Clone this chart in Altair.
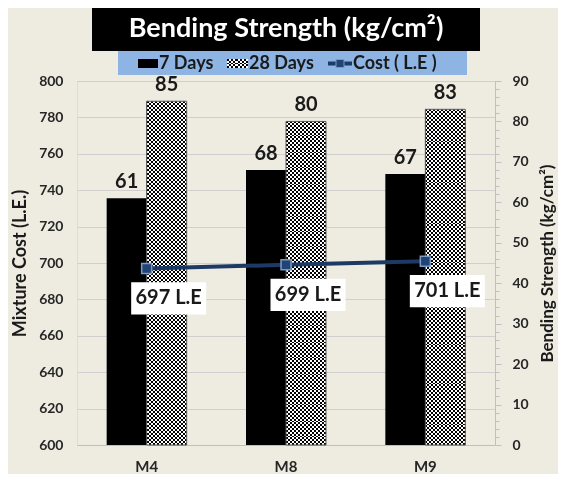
import altair as alt
import pandas as pd

# ---------------- data ----------------
mixes = ["M4", "M8", "M9"]
strength_7 = [61, 68, 67]
strength_28 = [85, 80, 83]
cost = [697, 699, 701]
cost_text = ["697 L.E", "699 L.E", "701 L.E"]
legend_labels = ["7 Days", "28 Days", "Cost ( L.E )"]
title_text = "Bending Strength (kg/cm²)"
left_title = "Mixture Cost  (L.E.)"
right_title = "Bending Strength (kg/cm²)"

df = pd.DataFrame({"mix": mixes, "s7": strength_7, "s28": strength_28,
                   "cost": cost, "ctext": cost_text})
one = pd.DataFrame({"k": [0]})

FONT = "Lato"
W, H = 418, 364
NAVY = "#1C3A64"
INK = "#1a1a1a"


def stripes(n, vertical, dark="#000000", light="#ffffff"):
    stops = []
    for i in range(n):
        c = dark if i % 2 == 0 else light
        stops.append(alt.GradientStop(offset=i / n, color=c))
        stops.append(alt.GradientStop(offset=(i + 1) / n, color=c))
    if vertical:
        return alt.LinearGradient(gradient="linear", stops=stops, x1=0, x2=1, y1=0, y2=0)
    return alt.LinearGradient(gradient="linear", stops=stops, x1=0, x2=0, y1=0, y2=1)


base = alt.Chart(df)

x_axis = alt.Axis(title=None, labelAngle=0, labelFontSize=15,
                  labelFontWeight="bold", labelColor="#262626",
                  ticks=False, labelPadding=14, domainColor="#BFBFBF")
x_scale = alt.Scale(paddingInner=0, paddingOuter=0)


def xe():
    return alt.X("mix:N", sort=mixes, scale=x_scale, axis=x_axis)


right_axis = alt.Axis(
    orient="right", values=list(range(0, 91, 2)),
    labelExpr="datum.value % 10 == 0 ? datum.label : ''",
    labelOverlap=False,
    tickSize={"condition": {"test": "datum.value % 10 == 0", "value": 6}, "value": 4},
    tickColor="#BFBFBF", domainColor="#BFBFBF", grid=False,
    labelFontSize=14, labelFontWeight="bold", labelColor="#262626", labelPadding=11,
    title=right_title, titleFontSize=17, titleFontWeight="bold", titleColor=INK,
    titleAngle=270, titleBaseline="top", titlePadding=11)
yscale_r = alt.Scale(domain=[0, 90])


def yr(field):
    return alt.Y(field, scale=yscale_r, axis=right_axis, title=right_title)


bar7 = base.mark_bar(color="black", width=40, xOffset=-20).encode(x=xe(), y=yr("s7:Q"))
bar28_base = base.mark_bar(fill=stripes(20, True), width=40, xOffset=20).encode(
    x=xe(), y=yr("s28:Q"))
bar28_over = base.mark_bar(fill=stripes(172, False), width=40, xOffset=20,
                           blend="difference").encode(x=xe(), y=yr("s28:Q"))
bar28_edge = base.mark_bar(filled=False, stroke="#595959", strokeWidth=1,
                           width=40, xOffset=20).encode(x=xe(), y=yr("s28:Q"))
lab7 = base.mark_text(dx=-20, dy=-10, baseline="alphabetic", align="center",
                      fontSize=20, fontWeight="bold", color=INK).encode(
    x=xe(), y=yr("s7:Q"), text="s7:Q")
lab28 = base.mark_text(dx=20, dy=-10, baseline="alphabetic", align="center",
                       fontSize=20, fontWeight="bold", color=INK).encode(
    x=xe(), y=yr("s28:Q"), text="s28:Q")

bars = alt.layer(bar7, bar28_base, bar28_over, bar28_edge, lab7, lab28)

left_axis = alt.Axis(
    orient="left", values=list(range(600, 801, 20)), grid=True, gridColor="#CFCFCF",
    ticks=False, domain=False, labelFontSize=14, labelFontWeight="bold",
    labelColor="#262626", labelPadding=14, title=left_title, titleFontSize=18,
    titleFontWeight="bold", titleColor=INK, titlePadding=9)
yscale_l = alt.Scale(domain=[600, 800])


def yl():
    return alt.Y("cost:Q", scale=yscale_l, axis=left_axis, title=left_title)


line = base.mark_line(color=NAVY, strokeWidth=4).encode(x=xe(), y=yl())
pts = base.mark_point(shape="square", filled=True, size=100, fill="#1F4477",
                      stroke="#7F9AC0", strokeWidth=1.5, opacity=1).encode(x=xe(), y=yl())
BOX = "M-1,-0.43L1,-0.43L1,0.43L-1,0.43Z"
boxes = base.mark_point(shape=BOX, filled=True, size=75 * 75, fill="white",
                        strokeWidth=0, opacity=1, xOffset=22, yOffset=30).encode(
    x=xe(), y=yl())
ctext = base.mark_text(dx=22, dy=30, fontSize=20, fontWeight="bold", color=INK,
                       align="center", baseline="middle").encode(
    x=xe(), y=yl(), text="ctext:N")

costs = alt.layer(line, pts, boxes, ctext)

# ---------------- title & legend boxes ----------------
deco = alt.Chart(one)
title_box = deco.mark_rect(color="black").encode(
    x=alt.value(15), x2=alt.value(403), y=alt.value(-76), y2=alt.value(-30))
title_txt = deco.mark_text(text=title_text, fontSize=27, fontWeight="bold",
                           color="white", align="center", baseline="middle").encode(
    x=alt.value(209), y=alt.value(-52))
leg_box = deco.mark_rect(color="#8DB4E2").encode(
    x=alt.value(41), x2=alt.value(390), y=alt.value(-30), y2=alt.value(-6))
leg_black = deco.mark_rect(color="black").encode(
    x=alt.value(61), x2=alt.value(81), y=alt.value(-22), y2=alt.value(-13))
leg_chk_a = deco.mark_rect(fill=stripes(10, True)).encode(
    x=alt.value(150), x2=alt.value(171), y=alt.value(-22), y2=alt.value(-13))
leg_chk_b = deco.mark_rect(fill=stripes(5, False), blend="difference").encode(
    x=alt.value(150), x2=alt.value(171), y=alt.value(-22), y2=alt.value(-13))
leg_line = deco.mark_rule(color=NAVY, strokeWidth=4).encode(
    x=alt.value(251), x2=alt.value(275), y=alt.value(-17.5))
leg_pt = deco.mark_point(shape="square", filled=True, size=64, fill="#1F4477",
                         stroke="#7F9AC0", strokeWidth=1, opacity=1).encode(
    x=alt.value(263), y=alt.value(-17.5))
leg_t1 = deco.mark_text(text=legend_labels[0], fontSize=18, fontWeight="bold",
                        color=INK, align="left", baseline="middle").encode(
    x=alt.value(82), y=alt.value(-17))
leg_t2 = deco.mark_text(text=legend_labels[1], fontSize=18, fontWeight="bold",
                        color=INK, align="left", baseline="middle").encode(
    x=alt.value(172), y=alt.value(-17))
leg_t3 = deco.mark_text(text=legend_labels[2], fontSize=18, fontWeight="bold",
                        color=INK, align="left", baseline="middle").encode(
    x=alt.value(276), y=alt.value(-17))

chart = alt.layer(
    bars, costs,
    title_box, title_txt, leg_box, leg_black, leg_chk_a, leg_chk_b,
    leg_line, leg_pt, leg_t1, leg_t2, leg_t3,
).resolve_scale(y="independent").properties(
    width=W, height=H,
    autosize=alt.AutoSizeParams(type="none"),
    padding={"left": 69, "top": 73, "right": 63, "bottom": 29},
    background="#EEECE1",
).configure_view(
    fill="white", stroke="#BFBFBF", strokeWidth=1
).configure(font=FONT)

chart.save("out.html", embed_options={"renderer": "svg", "actions": False})
